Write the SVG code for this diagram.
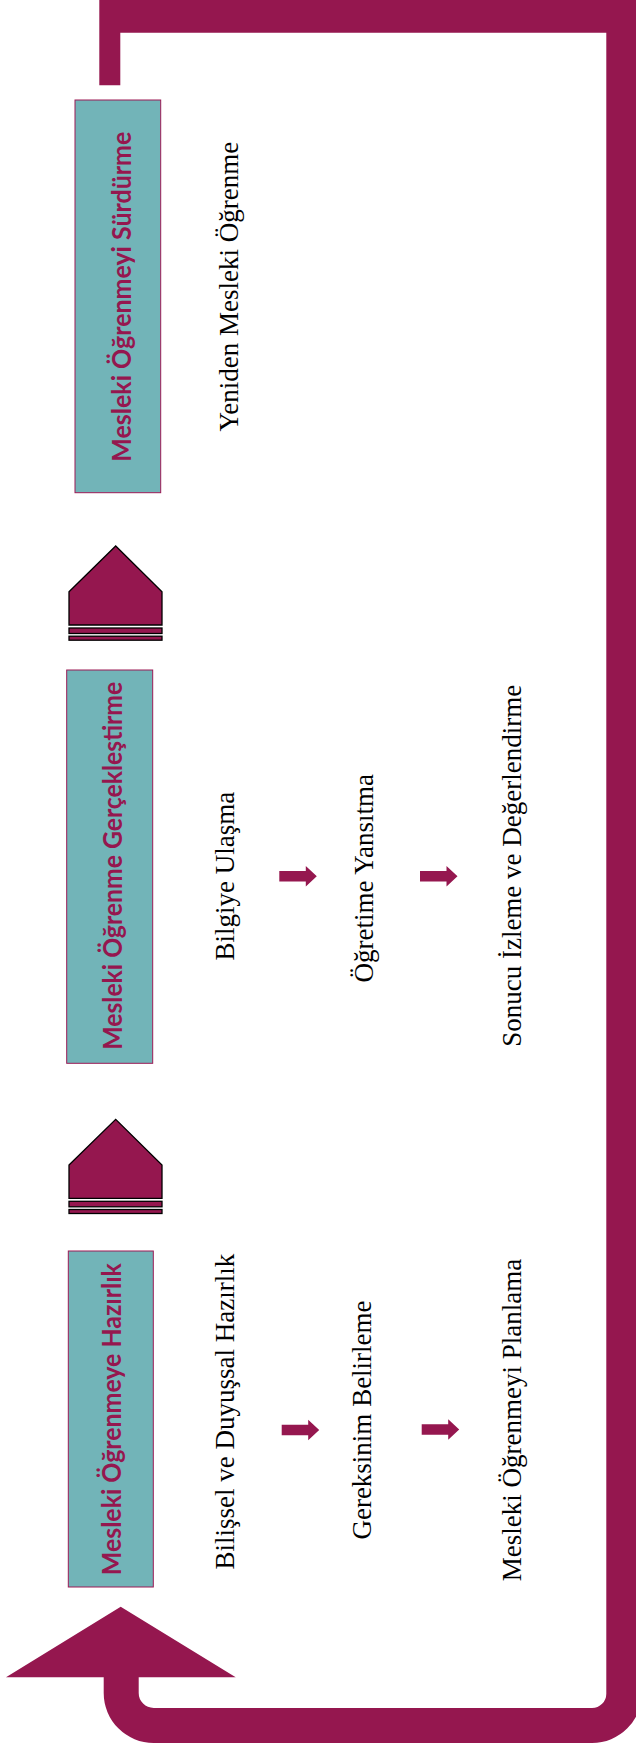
<svg xmlns="http://www.w3.org/2000/svg" width="636" height="1749" viewBox="0 0 636 1749">
<style>
.loop{fill:#95174F}
.box{fill:#72B4B8;stroke:#9B1A55;stroke-width:1}
.lbl{font-family:Lato,"Open Sans","Liberation Sans",sans-serif;font-weight:700;font-size:27.5px;fill:#95174F}
.txt{font-family:"Liberation Serif","Times New Roman",serif;font-size:27px;fill:#000}
.up{fill:#95174F;stroke:#000;stroke-width:1.3}
.sm{fill:#95174F}
</style>
<defs>
<g id="uparrow">
<polygon class="up" points="0,45.7 46.7,0 93,45.7 93,79 0,79"/>
<rect class="up" x="0" y="82" width="93" height="5.5"/>
<rect class="up" x="0" y="90.2" width="93" height="4"/>
</g>
<path id="rarrow" d="M0 -5.3 H26.5 V-10.3 L37.5 0 L26.5 10.3 V5.3 H0 Z"/>
</defs>
<rect width="636" height="1749" fill="#fff"/>
<g id="connectors">
<path class="loop" d="M99.3 -5 L642 -5 L642 1693 A50 50 0 0 1 592 1743 L153.7 1743 A50 50 0 0 1 103.7 1693 L103.7 1677.3 L6 1677.3 L120.7 1606.7 L235.7 1677.3 L138.7 1677.3 L138.7 1693 A15 15 0 0 0 153.7 1708 L592 1708 A14.3 14.3 0 0 0 606.3 1693.7 L606.3 32.7 L120.3 32.7 L120.3 85.3 L99.3 85.3 Z"/>
<use href="#uparrow" x="69" y="546"/>
<use href="#uparrow" x="69" y="1119.3"/>
<use href="#rarrow" class="sm" x="279.3" y="876.3"/>
<use href="#rarrow" class="sm" x="420" y="876.3"/>
<use href="#rarrow" class="sm" x="281.7" y="1430"/>
<use href="#rarrow" class="sm" x="421.7" y="1429.5"/>
</g>
<g id="node-surdurme">
<rect class="box" x="75" y="100" width="85.7" height="392.7"/>
<text class="lbl" transform="translate(130.5,296.7) rotate(-90)" x="-165" y="0" textLength="330" lengthAdjust="spacingAndGlyphs">Mesleki Öğrenmeyi Sürdürme</text>
</g>
<g id="node-yeniden">
<text class="txt" transform="translate(238.3,286.7) rotate(-90)" text-anchor="middle">Yeniden Mesleki Öğrenme</text>
</g>
<g id="node-gerceklestirme">
<rect class="box" x="66.7" y="670" width="86" height="393.3"/>
<text class="lbl" transform="translate(121.5,865.8) rotate(-90)" x="-184" y="0" textLength="368" lengthAdjust="spacingAndGlyphs">Mesleki Öğrenme Gerçekleştirme</text>
</g>
<g id="node-bilgiye">
<text class="txt" transform="translate(234.3,876.2) rotate(-90)" text-anchor="middle">Bilgiye Ulaşma</text>
</g>
<g id="node-ogretime">
<text class="txt" transform="translate(372.7,878.3) rotate(-90)" text-anchor="middle">Öğretime Yansıtma</text>
</g>
<g id="node-sonucu">
<text class="txt" transform="translate(520.7,865.8) rotate(-90)" text-anchor="middle">Sonucu İzleme ve Değerlendirme</text>
</g>
<g id="node-hazirlik">
<rect class="box" x="68.3" y="1251" width="85" height="336"/>
<text class="lbl" transform="translate(121,1419.2) rotate(-90)" x="-156" y="0" textLength="312" lengthAdjust="spacingAndGlyphs">Mesleki Öğrenmeye Hazırlık</text>
</g>
<g id="node-bilissel">
<text class="txt" transform="translate(234,1411.7) rotate(-90)" text-anchor="middle">Bilişsel ve Duyuşsal Hazırlık</text>
</g>
<g id="node-gereksinim">
<text class="txt" transform="translate(371,1420) rotate(-90)" text-anchor="middle">Gereksinim Belirleme</text>
</g>
<g id="node-planlama">
<text class="txt" transform="translate(520.7,1420) rotate(-90)" text-anchor="middle">Mesleki Öğrenmeyi Planlama</text>
</g>
</svg>
